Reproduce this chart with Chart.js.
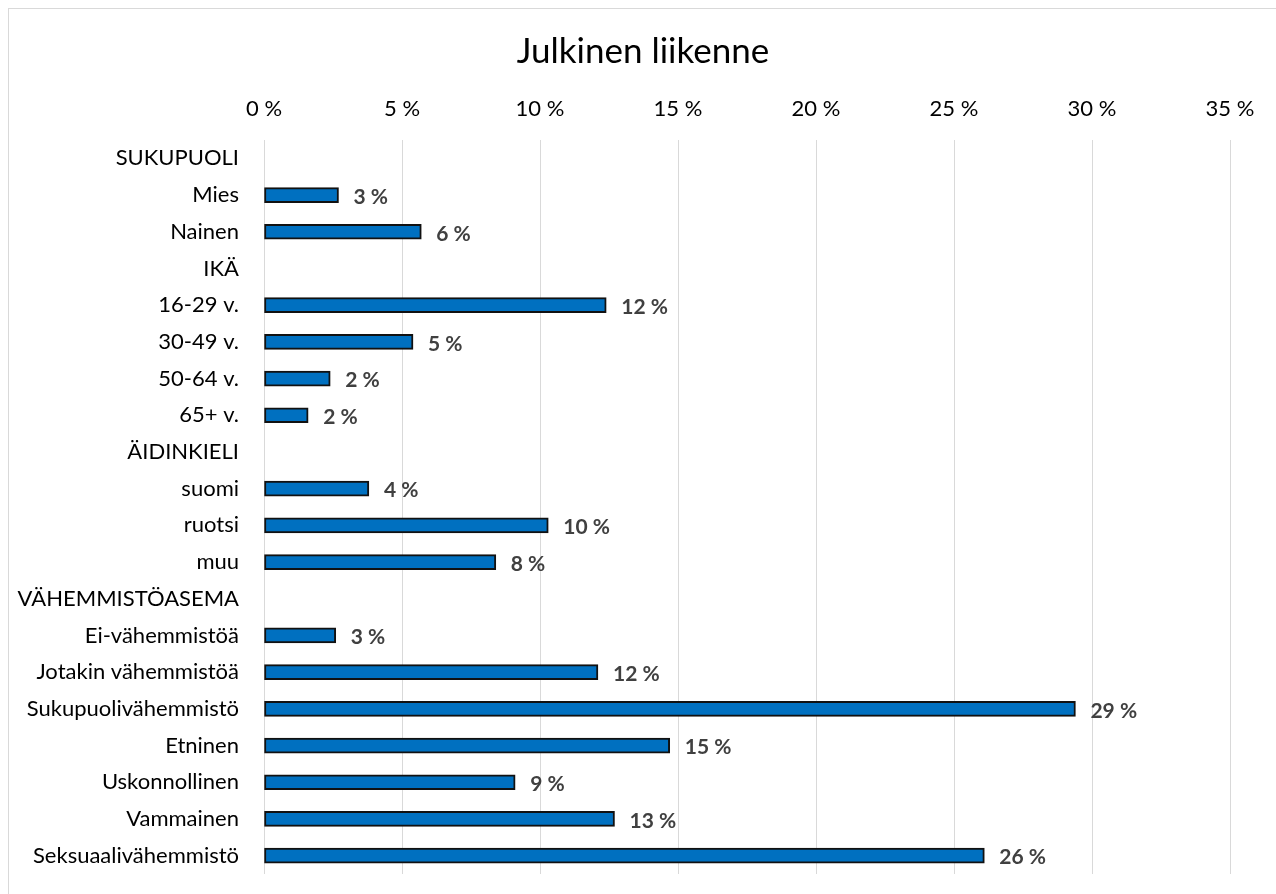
<!DOCTYPE html>
<html>
<head>
<meta charset="utf-8">
<script src="https://cdn.jsdelivr.net/npm/chart.js@4"></script>
<style>
    body { margin: 0; background: #fff; }
    #frame { position: absolute; left: 8px; top: 8px; width: 1300px; height: 900px; border: 1px solid #d9d9d9; }
    #wrap { position: absolute; left: 0; top: 0; width: 1276px; height: 894px; }
</style>
</head>
<body>
<div id="frame"></div>
<div id="wrap"><canvas id="chart" width="1276" height="894"></canvas></div>
<script>
(function () {
    // rows of the chart, group headings have no value
    var categories = [
        'SUKUPUOLI', 'Mies', 'Nainen',
        'IKÄ', '16-29 v.', '30-49 v.', '50-64 v.', '65+ v.',
        'ÄIDINKIELI', 'suomi', 'ruotsi', 'muu',
        'VÄHEMMISTÖASEMA', 'Ei-vähemmistöä', 'Jotakin vähemmistöä', 'Sukupuolivähemmistö',
        'Etninen', 'Uskonnollinen', 'Vammainen', 'Seksuaalivähemmistö'
    ];
    var shares = [
        null, 2.7, 5.7,
        null, 12.4, 5.4, 2.4, 1.6,
        null, 3.8, 10.3, 8.4,
        null, 2.6, 12.1, 29.4,
        14.7, 9.1, 12.7, 26.1
    ];
    var ticks = [0, 5, 10, 15, 20, 25, 30, 35];

    var font = 'Lato, "Open Sans", sans-serif';

    var valueLabels = {
        id: 'valueLabels',
        afterDatasetsDraw: function (chart) {
            var ctx = chart.ctx;
            var meta = chart.getDatasetMeta(0);
            ctx.save();
            ctx.font = 'bold 21px ' + font;
            ctx.fillStyle = '#404040';
            ctx.textAlign = 'left';
            ctx.textBaseline = 'middle';
            meta.data.forEach(function (bar, i) {
                var v = shares[i];
                if (v === null) { return; }
                ctx.fillText(Math.round(v) + ' %', bar.x + 15, bar.y + 2);
            });
            ctx.restore();
        }
    };

    var ctx = document.getElementById('chart').getContext('2d');

    new Chart(ctx, {
        type: 'bar',
        data: {
            labels: categories,
            datasets: [{
                data: shares,
                backgroundColor: '#0070C0',
                borderColor: '#111111',
                borderWidth: 2,
                borderSkipped: false,
                barThickness: 15
            }]
        },
        options: {
            indexAxis: 'y',
            responsive: false,
            animation: false,
            layout: { padding: { left: 10, right: 0, top: 0, bottom: 20 } },
            plugins: {
                legend: { display: false },
                tooltip: { enabled: false },
                title: {
                    display: true,
                    text: 'Julkinen liikenne',
                    color: '#000',
                    font: { family: font, size: 35, weight: 'normal' },
                    padding: { top: 31, bottom: 8 }
                }
            },
            scales: {
                x: {
                    position: 'top',
                    min: ticks[0],
                    max: ticks[ticks.length - 1],
                    afterBuildTicks: function (scale) {
                        scale.ticks = ticks.map(function (t) { return { value: t }; });
                    },
                    afterFit: function (scale) {
                        scale.height = 59;
                        scale.paddingLeft = 0;
                        scale.paddingRight = 0;
                    },
                    grid: { color: '#d9d9d9', lineWidth: 1, drawTicks: false },
                    border: { display: false },
                    ticks: {
                        color: '#000',
                        padding: 18,
                        font: { family: font, size: 22 },
                        callback: function (v) { return v + ' %'; }
                    }
                },
                y: {
                    afterFit: function (scale) {
                        scale.width = 254;
                        scale.paddingTop = 0;
                        scale.paddingBottom = 0;
                    },
                    grid: { display: false },
                    border: { display: false },
                    ticks: {
                        color: '#000',
                        padding: 17,
                        autoSkip: false,
                        font: { family: font, size: 22 }
                    }
                },
                // empty right-hand strip so the plot ends at 35 % like the original
                spacer: {
                    type: 'category',
                    axis: 'y',
                    position: 'right',
                    display: true,
                    afterFit: function (scale) {
                        scale.width = 46;
                        scale.paddingTop = 0;
                        scale.paddingBottom = 0;
                    },
                    grid: { display: false },
                    border: { display: false },
                    ticks: { display: false }
                }
            }
        },
        plugins: [valueLabels]
    });
}());
</script>
</body>
</html>
